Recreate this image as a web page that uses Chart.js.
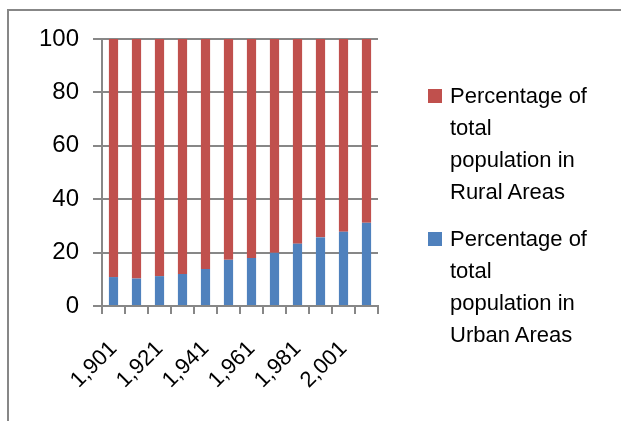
<!DOCTYPE html>
<html>
<head>
<meta charset="utf-8">
<script src="https://cdn.jsdelivr.net/npm/chart.js@4/dist/chart.umd.min.js"></script>
<style>
  html, body { margin: 0; padding: 0; background: #fff; overflow: hidden; }
  #frame { position: absolute; left: 7px; top: 9px; width: 700px; height: 500px; border: 2px solid #878787; }
  #wrap { position: absolute; left: 0; top: 0; width: 621px; height: 421px; }
  #legend { position: absolute; left: 428px; top: 80px; font-family: 'Liberation Sans', Arial, sans-serif; font-size: 22px; line-height: 32px; color: #000; }
  .item { position: relative; padding-left: 22px; margin-bottom: 15px; }
  .sw { position: absolute; left: 0; top: 9px; width: 14px; height: 14px; }
</style>
</head>
<body>
<div id="frame"></div>
<div id="wrap"><canvas id="c" width="621" height="421"></canvas></div>
<div id="legend"></div>
<script>
// Census years and share of population (%)
var years = [1901, 1911, 1921, 1931, 1941, 1951, 1961, 1971, 1981, 1991, 2001, 2011];
var urban = [10.84, 10.29, 11.18, 11.99, 13.86, 17.29, 17.97, 19.91, 23.34, 25.71, 27.82, 31.16];
var rural = [89.16, 89.71, 88.82, 88.01, 86.14, 82.71, 82.03, 80.09, 76.66, 74.29, 72.18, 68.84];
var yTicks = [0, 20, 40, 60, 80, 100];

var RED = '#c0504d', BLUE = '#4f81bd', GRID = '#878787';
var FONT = "'Liberation Sans', Arial, sans-serif";

var labels = years.map(function (y) { return y.toLocaleString('en-US'); });

new Chart(document.getElementById('c').getContext('2d'), {
  type: 'bar',
  data: {
    labels: labels,
    datasets: [
      { label: 'Percentage of total population in Urban Areas', data: urban, backgroundColor: BLUE, barPercentage: 0.4, categoryPercentage: 1 },
      { label: 'Percentage of total population in Rural Areas', data: rural, backgroundColor: RED, barPercentage: 0.4, categoryPercentage: 1 }
    ]
  },
  options: {
    responsive: false,
    animation: false,
    layout: { padding: { top: 39, right: 243, left: 0, bottom: 0 } },
    plugins: { legend: { display: false }, tooltip: { enabled: false } },
    scales: {
      x: {
        stacked: true,
        grid: { drawOnChartArea: false, drawTicks: true, tickLength: 8, color: GRID, lineWidth: 2, offset: true },
        border: { color: GRID, width: 2 },
        ticks: {
          autoSkip: false, maxRotation: 45, minRotation: 45, color: '#000', padding: 22,
          font: { family: FONT, size: 22 },
          callback: function (v, i) { return i % 2 === 0 ? labels[i] : ''; }
        },
        afterFit: function (s) { s.height = 115; }
      },
      y: {
        stacked: true, min: 0, max: 100,
        afterBuildTicks: function (s) { s.ticks = yTicks.map(function (v) { return { value: v }; }); },
        grid: { color: GRID, lineWidth: 2, tickLength: 9 },
        border: { color: GRID, width: 2 },
        ticks: { color: '#000', padding: 14, font: { family: FONT, size: 24 } },
        afterFit: function (s) { s.width = 102; }
      }
    }
  }
});

// legend (rural listed first, like the original)
var legendItems = [
  { color: RED, lines: ['Percentage of', 'total', 'population in', 'Rural Areas'] },
  { color: BLUE, lines: ['Percentage of', 'total', 'population in', 'Urban Areas'] }
];
var lg = document.getElementById('legend');
legendItems.forEach(function (it) {
  var d = document.createElement('div');
  d.className = 'item';
  d.innerHTML = '<span class="sw" style="background:' + it.color + '"></span>' + it.lines.join('<br>');
  lg.appendChild(d);
});
</script>
</body>
</html>
